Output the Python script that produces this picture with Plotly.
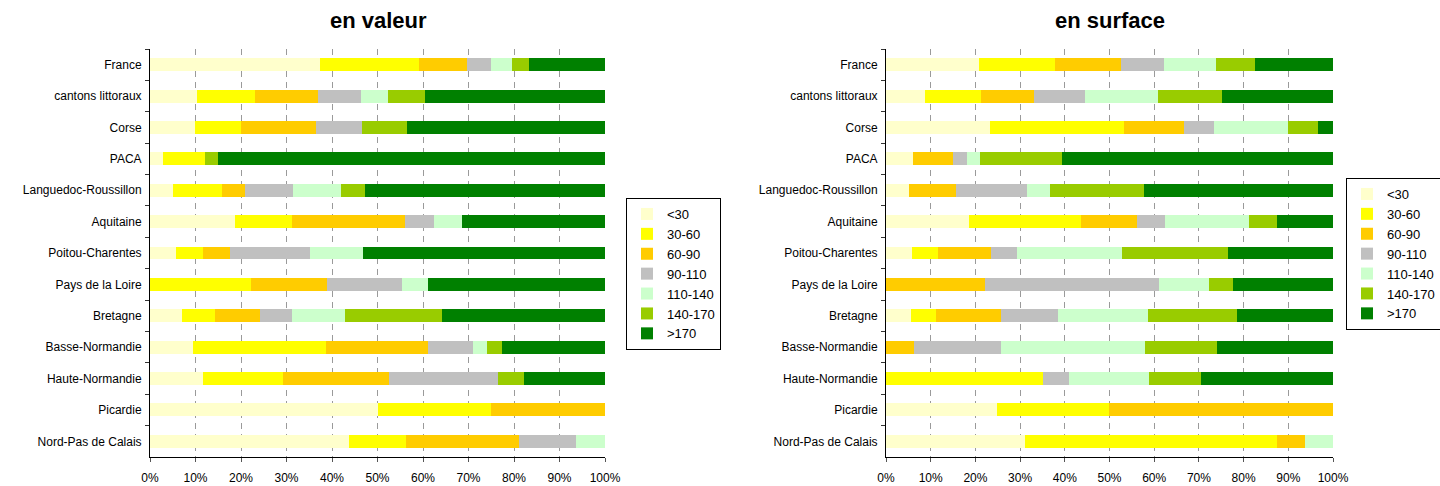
import plotly.graph_objects as go

# Regions, listed top to bottom
regions = [
    "France", "cantons littoraux", "Corse", "PACA", "Languedoc-Roussillon",
    "Aquitaine", "Poitou-Charentes", "Pays de la Loire", "Bretagne",
    "Basse-Normandie", "Haute-Normandie", "Picardie", "Nord-Pas de Calais",
]

# Price bands
bands = ["<30", "30-60", "60-90", "90-110", "110-140", "140-170", ">170"]
band_colors = ["#FFFFCC", "#FFFF00", "#FFCC00", "#C0C0C0", "#CCFFCC", "#99CC00", "#008000"]

# Percentage axis ticks
pct_ticks = list(range(0, 101, 10))
pct_labels = [f"{t}%" for t in pct_ticks]

# Share of each band (%), by value
valeur_lt30 =    [37.3, 10.3,  9.8,  2.8,  5.0, 18.6,  5.7,  0.0,  7.0,  9.4, 11.6, 50.0, 43.7]
valeur_30_60 =   [21.8, 12.7, 10.2,  9.2, 10.8, 12.6,  5.9, 22.1,  7.2, 29.2, 17.6, 25.0, 12.5]
valeur_60_90 =   [10.6, 13.9, 16.4,  0.0,  5.1, 24.9,  5.9, 16.8,  9.9, 22.4, 23.4, 25.0, 25.0]
valeur_90_110 =  [ 5.2,  9.4, 10.2,  0.0, 10.5,  6.3, 17.6, 16.5,  7.1, 10.0, 23.9,  0.0, 12.4]
valeur_110_140 = [ 4.6,  6.0,  0.0,  0.0, 10.5,  6.2, 11.7,  5.7, 11.6,  3.1,  0.0,  0.0,  6.4]
valeur_140_170 = [ 3.8,  8.1,  9.9,  2.9,  5.3,  0.0,  0.0,  0.0, 21.4,  3.3,  5.7,  0.0,  0.0]
valeur_gt170 =   [16.7, 39.6, 43.5, 85.1, 52.8, 31.4, 53.2, 38.9, 35.8, 22.6, 17.8,  0.0,  0.0]

# Share of each band (%), by surface
surface_lt30 =    [20.8,  8.7, 23.3,  6.0,  5.1, 18.6,  5.8,  0.0,  5.6,  0.0,  0.0, 24.8, 31.1]
surface_30_60 =   [17.0, 12.5, 29.9,  0.0,  0.0, 25.0,  5.8,  0.0,  5.6,  0.0, 35.1, 25.1, 56.3]
surface_60_90 =   [14.7, 11.9, 13.4,  9.0, 10.5, 12.5, 11.9, 22.1, 14.6,  6.3,  0.0, 50.1,  6.3]
surface_90_110 =  [ 9.7, 11.4,  6.7,  3.1, 15.9,  6.3,  5.8, 38.9, 12.7, 19.4,  5.8,  0.0,  0.0]
surface_110_140 = [11.6, 16.3, 16.6,  2.9,  5.2, 18.8, 23.5, 11.2, 20.1, 32.2, 17.9,  0.0,  6.3]
surface_140_170 = [ 8.7, 14.3,  6.7, 18.3, 21.0,  6.2, 23.7,  5.4, 19.9, 16.1, 11.6,  0.0,  0.0]
surface_gt170 =   [17.5, 24.9,  3.4, 60.7, 42.3, 12.6, 23.5, 22.4, 21.5, 26.0, 29.6,  0.0,  0.0]

valeur = [valeur_lt30, valeur_30_60, valeur_60_90, valeur_90_110,
          valeur_110_140, valeur_140_170, valeur_gt170]
surface = [surface_lt30, surface_30_60, surface_60_90, surface_90_110,
           surface_110_140, surface_140_170, surface_gt170]

FONT = "Liberation Sans, Arial, sans-serif"

fig = go.Figure()

for name, color, vals in zip(bands, band_colors, valeur):
    fig.add_trace(go.Bar(
        y=regions, x=vals, name=name, orientation="h",
        marker=dict(color=color, line=dict(width=0)),
        xaxis="x", yaxis="y", legend="legend",
    ))

for name, color, vals in zip(bands, band_colors, surface):
    fig.add_trace(go.Bar(
        y=regions, x=vals, name=name, orientation="h",
        marker=dict(color=color, line=dict(width=0)),
        xaxis="x2", yaxis="y2", legend="legend2",
    ))

xaxis_style = dict(
    range=[0, 100], tickmode="array", tickvals=pct_ticks, ticktext=pct_labels,
    showgrid=True, gridcolor="#9a9a9a", griddash="6px,5px", gridwidth=1,
    showline=True, linecolor="black", linewidth=1,
    ticks="outside", ticklen=4, tickcolor="#555555",
    tickfont=dict(family=FONT, size=12, color="black"),
    ticklabelstandoff=6, zeroline=False, fixedrange=True, automargin=False,
)
yaxis_style = dict(
    autorange="reversed", type="category",
    showline=True, linecolor="black", linewidth=1,
    ticks="outside", ticklen=4, tickcolor="#333333", tickson="boundaries",
    tickfont=dict(family=FONT, size=12, color="black"),
    ticklabelstandoff=5, showgrid=False, fixedrange=True, automargin=False,
)

y_dom = [29 / 486, 437 / 486]

legend_style = dict(
    bgcolor="white", bordercolor="black", borderwidth=1,
    font=dict(family=FONT, size=13, color="black"),
    traceorder="normal", itemwidth=30, tracegroupgap=0,
    xanchor="left", yanchor="top",
)

fig.update_layout(
    width=1440, height=486,
    margin=dict(l=0, r=0, t=0, b=0, autoexpand=False),
    paper_bgcolor="white", plot_bgcolor="white",
    barmode="stack", bargap=0.59,
    font=dict(family=FONT, color="black"),
    xaxis=dict(domain=[150 / 1440, 605 / 1440], anchor="y", **xaxis_style),
    yaxis=dict(domain=y_dom, anchor="x", **yaxis_style),
    xaxis2=dict(domain=[886 / 1440, 1333 / 1440], anchor="y2", **xaxis_style),
    yaxis2=dict(domain=y_dom, anchor="x2", **yaxis_style),
    legend=dict(x=626 / 1440, y=1 - 198 / 486, **legend_style),
    legend2=dict(x=1346 / 1440, y=1 - 178 / 486, **legend_style),
    annotations=[
        dict(text="<b>en valeur</b>", x=378 / 1440, y=1 - 20 / 486,
             xref="paper", yref="paper", showarrow=False,
             xanchor="center", yanchor="middle",
             font=dict(family=FONT, size=22, color="black")),
        dict(text="<b>en surface</b>", x=1110 / 1440, y=1 - 20 / 486,
             xref="paper", yref="paper", showarrow=False,
             xanchor="center", yanchor="middle",
             font=dict(family=FONT, size=22, color="black")),
    ],
)

fig.write_html("out.html")
